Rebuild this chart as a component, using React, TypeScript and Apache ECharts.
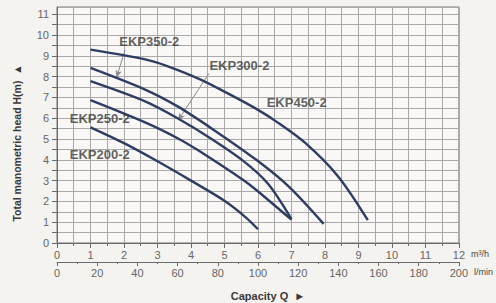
import React, { useEffect, useRef } from "react";
import * as echarts from "echarts";

// Capacity Q (m³/h) and head H (m) for each pump curve
const ekp450Q = [1, 2.63, 3.31, 4.29, 5.27, 5.95, 6.54, 7.42, 8.4, 9.28];
const ekp450H = [9.3, 8.83, 8.5, 7.86, 7.05, 6.45, 5.85, 4.8, 3.19, 1.1];
const ekp350Q = [1, 2.63, 3.6, 4.68, 5.95, 6.93, 7.96];
const ekp350H = [8.42, 7.38, 6.57, 5.44, 4.0, 2.7, 0.92];
const ekp300Q = [1, 2.63, 3.6, 4.58, 5.56, 6.3, 7.0];
const ekp300H = [7.78, 6.81, 6.0, 5.04, 3.95, 2.85, 1.15];
const ekp250Q = [1, 2.63, 3.6, 4.19, 5.56, 5.95, 7.0];
const ekp250H = [6.87, 5.8, 5.04, 4.48, 3.03, 2.55, 1.12];
const ekp200Q = [1, 2, 3, 4, 5, 5.66, 6.0];
const ekp200H = [5.56, 4.8, 3.93, 3.0, 2.03, 1.2, 0.66];

const curveNames = ["EKP450-2", "EKP350-2", "EKP300-2", "EKP250-2", "EKP200-2"];
const curveQ = [ekp450Q, ekp350Q, ekp300Q, ekp250Q, ekp200Q];
const curveH = [ekp450H, ekp350H, ekp300H, ekp250H, ekp200H];

// label anchor (left edge, vertical centre) in data coordinates
const labelNames = ["EKP350-2", "EKP300-2", "EKP450-2", "EKP250-2", "EKP200-2"];
const labelQ = [1.86, 4.55, 6.26, 0.38, 0.38];
const labelH = [9.7, 8.56, 6.75, 6.0, 4.28];

// arrows: [fromQ, fromH, toQ, toH]
const arrows = [
  [2.03, 9.28, 1.78, 7.97],
  [4.54, 8.16, 3.62, 5.91],
];

const yMax = 11.35;
const qMax = 12;
const lminMax = 200;

const FONT = "'Liberation Sans', Arial, sans-serif";

export default function App() {
  const ref = useRef<HTMLDivElement>(null);
  useEffect(() => {
    if (!ref.current) return;
    const chart = echarts.init(ref.current, null, { renderer: "svg" });
    const gridColor = "#a9a9a9";
    const axisColor = "#6a6a6a";
    const labelColor = "#666";

    const lineSeries = curveNames.map((name, i) => ({
      type: "line",
      name,
      smooth: 0.3,
      symbol: "none",
      xAxisIndex: 0,
      yAxisIndex: 0,
      data: curveQ[i].map((q, j) => [q, curveH[i][j]]),
      lineStyle: { color: "#2f3d63", width: 2.4 },
      z: 5,
    }));

    chart.setOption({
      animation: false,
      backgroundColor: "#f5f3f0",
      grid: {
        left: 57,
        right: 27,
        top: 7,
        bottom: 60,
        show: true,
        backgroundColor: "#f9f8f6",
        borderColor: "#777",
        borderWidth: 1,
      },
      xAxis: [
        {
          type: "value",
          min: 0,
          max: qMax,
          interval: 1,
          position: "bottom",
          axisLine: { show: true, onZero: false, lineStyle: { color: axisColor } },
          axisTick: { show: true, length: 5, lineStyle: { color: axisColor } },
          minorTick: { show: true, splitNumber: 2, length: 3, lineStyle: { color: axisColor } },
          axisLabel: { color: labelColor, fontSize: 11, margin: 6, fontFamily: FONT },
          splitLine: { show: true, lineStyle: { color: gridColor, width: 1 } },
          minorSplitLine: { show: true, lineStyle: { color: gridColor, width: 1 } },
          name: "m³/h",
          nameLocation: "end",
          nameGap: 8,
          nameTextStyle: {
            color: "#444",
            fontSize: 9,
            fontFamily: FONT,
            verticalAlign: "top",
            padding: [6, 0, 0, 0],
          },
        },
        {
          type: "value",
          min: 0,
          max: lminMax,
          interval: 20,
          position: "bottom",
          offset: 19,
          axisLine: { show: true, onZero: false, lineStyle: { color: axisColor } },
          axisTick: { show: true, length: 4, lineStyle: { color: axisColor } },
          minorTick: { show: true, splitNumber: 2, length: 2, lineStyle: { color: axisColor } },
          axisLabel: { color: labelColor, fontSize: 11, margin: 5, fontFamily: FONT },
          splitLine: { show: false },
          name: "l/min",
          nameLocation: "end",
          nameGap: 6,
          nameTextStyle: {
            color: "#444",
            fontSize: 9,
            fontFamily: FONT,
            verticalAlign: "top",
            padding: [5, 0, 0, 0],
          },
        },
      ],
      yAxis: [
        {
          type: "value",
          min: 0,
          max: yMax,
          interval: 0.5,
          axisLine: { show: true, lineStyle: { color: axisColor } },
          axisTick: { show: true, length: 5, lineStyle: { color: axisColor } },
          axisLabel: {
            color: labelColor,
            fontSize: 11,
            margin: 8,
            fontFamily: FONT,
            showMaxLabel: false,
            formatter: (v: number) => (Math.abs(v - Math.round(v)) < 1e-6 ? String(Math.round(v)) : ""),
          },
          splitLine: { show: true, lineStyle: { color: gridColor, width: 1 } },
        },
      ],
      graphic: [
        {
          type: "text",
          x: 17,
          y: 143,
          rotation: Math.PI / 2,
          style: {
            text: "Total manometric head H(m)  ▲",
            font: `bold 10.5px ${FONT}`,
            fill: "#3a3a3a",
            align: "center",
            verticalAlign: "middle",
          },
        },
        {
          type: "text",
          x: 268,
          y: 296,
          style: {
            text: "Capacity Q  ►",
            font: `bold 11px ${FONT}`,
            fill: "#3a3a3a",
            align: "center",
            verticalAlign: "middle",
          },
        },
      ],
      series: [
        ...lineSeries,
        {
          type: "scatter",
          xAxisIndex: 0,
          yAxisIndex: 0,
          symbolSize: 0,
          silent: true,
          data: labelNames.map((n, i) => [labelQ[i], labelH[i], n]),
          label: {
            show: true,
            position: "right",
            distance: 0,
            formatter: (p: any) => p.data[2],
            fontFamily: FONT,
            fontWeight: "bold",
            fontSize: 13,
            color: "#383838",
          },
          markLine: {
            silent: true,
            symbol: ["none", "arrow"],
            symbolSize: [5, 7],
            label: { show: false },
            lineStyle: { color: "#8a8a8a", width: 1, type: "solid" },
            data: arrows.map((a) => [{ coord: [a[0], a[1]] }, { coord: [a[2], a[3]] }]),
          },
          z: 6,
        },
      ],
    });
    return () => chart.dispose();
  }, []);
  return (
    <div
      ref={ref}
      style={{ position: "fixed", left: 0, top: 0, width: 496, height: 303 }}
    />
  );
}
